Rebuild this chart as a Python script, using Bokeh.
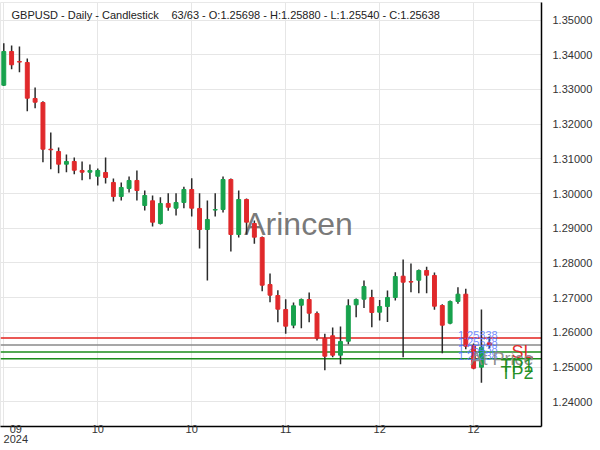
from bokeh.plotting import figure
from bokeh.models import Range1d, FixedTicker, PrintfTickFormatter, Label, ColumnDataSource
from bokeh.core.properties import value
from bokeh.embed import file_html
from bokeh.resources import INLINE

symbol = "GBPUSD"
timeframe = "Daily"
chart_type = "Candlestick"

opens = [
    1.33124, 1.34095, 1.33805, 1.33778, 1.32741, 1.32625, 1.31280, 1.31213, 1.30847, 1.30925,
    1.30666, 1.30617, 1.30501, 1.30608, 1.30320, 1.29917, 1.30147, 1.30378, 1.29657, 1.29792,
    1.29138, 1.29715, 1.29579, 1.29744, 1.30118, 1.29571, 1.28965, 1.29525, 1.29542, 1.30406,
    1.28821, 1.29830, 1.29138, 1.28735, 1.27380, 1.27063, 1.26660, 1.26208, 1.26784, 1.26948,
    1.26545, 1.25833, 1.25902, 1.25343, 1.25746, 1.26795, 1.26957, 1.27006, 1.26582, 1.26746,
    1.27006, 1.27620, 1.27465, 1.27504, 1.27784, 1.27640, 1.26775, 1.26265, 1.26891, 1.27101,
    1.25622, 1.24997, 1.25698]
highs = [
    1.34334, 1.34268, 1.34239, 1.33893, 1.33058, 1.32663, 1.31761, 1.31329, 1.31127, 1.31040,
    1.30925, 1.30839, 1.30723, 1.31040, 1.30435, 1.30320, 1.30493, 1.30666, 1.30089, 1.29945,
    1.29896, 1.30012, 1.30012, 1.30196, 1.30444, 1.30012, 1.29801, 1.30012, 1.30493, 1.30435,
    1.30089, 1.29859, 1.29225, 1.28760, 1.27697, 1.27216, 1.26957, 1.26862, 1.26977, 1.27150,
    1.26602, 1.25960, 1.26141, 1.26170, 1.26957, 1.26975, 1.27496, 1.27228, 1.26934, 1.27207,
    1.27735, 1.28101, 1.27986, 1.27813, 1.27891, 1.27726, 1.26813, 1.26919, 1.27303, 1.27257,
    1.25680, 1.26660, 1.25880]
lows = [
    1.33101, 1.33585, 1.33499, 1.32375, 1.32461, 1.30905, 1.30703, 1.30588, 1.30617, 1.30559,
    1.30386, 1.30415, 1.30233, 1.30291, 1.29772, 1.29801, 1.30032, 1.29801, 1.29513, 1.29052,
    1.29110, 1.29504, 1.29369, 1.29579, 1.29340, 1.28418, 1.27496, 1.29340, 1.29455, 1.28331,
    1.28735, 1.28821, 1.28553, 1.27187, 1.26870, 1.26294, 1.25960, 1.26121, 1.26121, 1.26294,
    1.25767, 1.24911, 1.25285, 1.25084, 1.25660, 1.26438, 1.26703, 1.26147, 1.26343, 1.26300,
    1.26919, 1.25285, 1.27159, 1.27130, 1.27130, 1.26651, 1.25401, 1.26236, 1.26824, 1.25516,
    1.24940, 1.24548, 1.25540]
closes = [
    1.34095, 1.33712, 1.33790, 1.32749, 1.32634, 1.31280, 1.31262, 1.30847, 1.30925, 1.30674,
    1.30617, 1.30666, 1.30666, 1.30464, 1.29917, 1.30176, 1.30378, 1.30089, 1.29945, 1.29176,
    1.29715, 1.29608, 1.29744, 1.30118, 1.29579, 1.28965, 1.29254, 1.29540, 1.30406, 1.28821,
    1.29830, 1.29176, 1.28744, 1.27360, 1.27072, 1.26669, 1.26179, 1.26767, 1.26948, 1.26553,
    1.25833, 1.25314, 1.25343, 1.25738, 1.26767, 1.26948, 1.27323, 1.26574, 1.26746, 1.27006,
    1.27611, 1.27447, 1.27450, 1.27784, 1.27648, 1.26755, 1.26208, 1.26891, 1.27101, 1.25602,
    1.24968, 1.25573, 1.25638]

tick_index = [0, 12, 24, 36, 48, 60]
tick_labels = ["09", "10", "10", "11", "12", "12"]
first_tick_year = "2024"
price_ticks = [1.24, 1.25, 1.26, 1.27, 1.28, 1.29, 1.30, 1.31, 1.32, 1.33, 1.34, 1.35]

level_names = ["SL", "At Price", "TP1", "TP2"]
level_prices = [1.25838, 1.25638, 1.25438, 1.25238]
level_colors = ["#e3211c", "#8a8a8a", "#1b8c1b", "#1b8c1b"]

UP = "#18a24d"
DOWN = "#e0292b"
FONT = "Liberation Sans"
NB = "\u00a0"

n = len(closes)
idx = list(range(n))
x_start, x_end = -0.42, 68.67
y_start, y_end = 1.23288, 1.35507

p = figure(width=600, height=450, output_backend="svg", toolbar_location=None,
           x_range=Range1d(x_start, x_end), y_range=Range1d(y_start, y_end),
           y_axis_location="right", min_border_left=0, min_border_top=2,
           min_border_right=59, min_border_bottom=24)
p.outline_line_color = "#e8e8e8"
p.background_fill_color = "white"
p.border_fill_color = "white"

# axes
overrides = {i: lab for i, lab in zip(tick_index, tick_labels)}
# first label carries the year on a second line
overrides[tick_index[0]] = NB + tick_labels[0] + "\n" + NB + first_tick_year
xa = p.xaxis[0]
xa.ticker = FixedTicker(ticks=tick_index)
xa.major_label_overrides = overrides
xa.major_tick_out = 0
xa.major_tick_in = 0
xa.minor_tick_out = 0
xa.minor_tick_in = 0
xa.major_label_standoff = -4
xa.axis_line_color = "black"
xa.axis_line_width = 1.5
xa.major_label_text_font = FONT
xa.major_label_text_font_size = "11px"
xa.major_label_text_color = "#333333"
xa.major_label_text_line_height = 0.85

ya = p.yaxis[0]
ya.ticker = FixedTicker(ticks=price_ticks)
ya.formatter = PrintfTickFormatter(format="%.5f")
ya.major_tick_out = 0
ya.major_tick_in = 0
ya.minor_tick_out = 0
ya.minor_tick_in = 0
ya.major_label_standoff = 11
ya.axis_line_color = "black"
ya.axis_line_width = 1.5
ya.major_label_text_font = FONT
ya.major_label_text_font_size = "11px"
ya.major_label_text_color = "#333333"

p.xgrid.grid_line_color = "#e6e6e6"
p.ygrid.grid_line_color = "#e6e6e6"
p.xgrid.grid_line_width = 1
p.ygrid.grid_line_width = 1

# watermark
p.add_layout(Label(x=298, y=203, x_units="screen", y_units="screen", text="Arincen",
                   text_align="center", text_baseline="middle", text_font=FONT,
                   text_font_size="32px", text_color="#555555", text_alpha=0.8,
                   level="underlay"))

# level lines
lv = ColumnDataSource(dict(y=level_prices, color=level_colors, name=level_names,
                           lab=[f"{v:.5f}" for v in level_prices],
                           x0=[x_start] * 4, x1=[x_end] * 4))
p.segment(x0="x0", y0="y", x1="x1", y1="y", line_color="color", line_width=1.5, source=lv)

# candles
colors = [UP if c >= o else DOWN for o, c in zip(opens, closes)]
src = ColumnDataSource(dict(x=idx, o=opens, h=highs, l=lows, c=closes,
                            top=[max(o, c) for o, c in zip(opens, closes)],
                            bot=[min(o, c) for o, c in zip(opens, closes)],
                            color=colors))
p.segment(x0="x", y0="l", x1="x", y1="h", line_color="#2b2b2b", line_width=1.5, source=src)
p.vbar(x="x", width=0.5, top="top", bottom="bot", fill_color="color", line_color="color",
       line_width=1, source=src)

# level value labels (blue)
lv.data["xl"] = [n - 5] * 4
p.text(x="xl", y="y", text="lab", source=lv, text_font=value(FONT), text_font_size="11px",
       text_color="#5577ff", text_alpha=0.85, text_align="left", text_baseline="alphabetic",
       y_offset=-3)

# level names (big)
lv.data["xr"] = [x_end] * 4
p.text(x="xr", y="y", text="name", source=lv, text_font=value(FONT), text_font_size="18px",
       text_color="color", text_alpha=0.95, text_align="right", text_baseline="top",
       x_offset=-8, y_offset=4)

# header
o, h, l, c = opens[-1], highs[-1], lows[-1], closes[-1]
p.add_layout(Label(x=11, y=412, x_units="screen", y_units="screen",
                   text=f"{symbol} - {timeframe} - {chart_type}", text_baseline="middle",
                   text_font=FONT, text_font_size="11px", text_color="#222222"))
p.add_layout(Label(x=171, y=412, x_units="screen", y_units="screen",
                   text=f"{n}/{n} - O:{o:.5f} - H:{h:.5f} - L:{l:.5f} - C:{c:.5f}",
                   text_baseline="middle", text_font=FONT, text_font_size="11px",
                   text_color="#222222"))

# last price tag on the axis
p.add_layout(Label(x=549, y=c, x_units="screen", y_units="data", text=f"{c:.5f}",
                   text_align="left", text_baseline="middle", text_font=FONT,
                   text_font_size="11px", text_color="white",
                   background_fill_color=DOWN, padding=1))

open("out.html", "w").write(file_html(p, INLINE))
